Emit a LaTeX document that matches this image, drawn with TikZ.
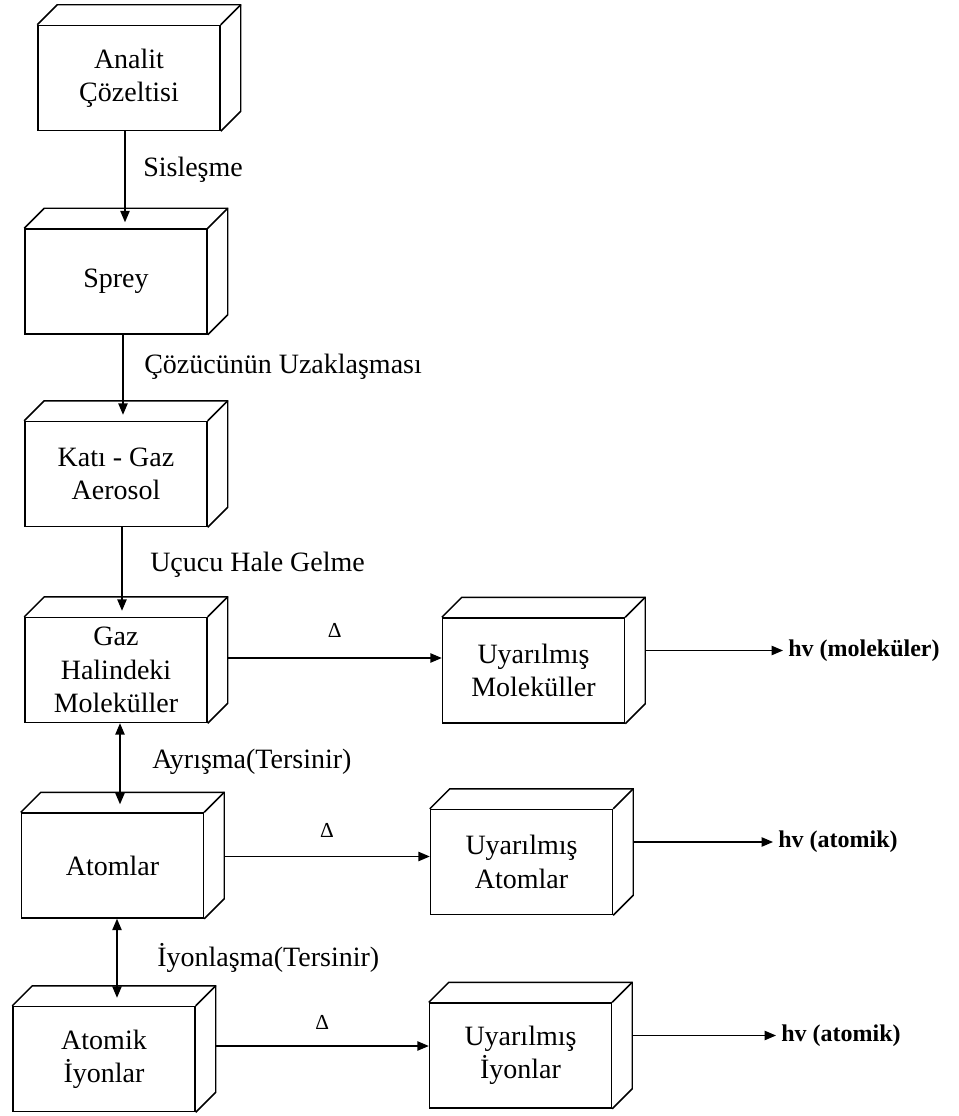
\documentclass[tikz,border=0pt]{standalone}
\usepackage{fontspec}
\setmainfont{Liberation Serif}
\usetikzlibrary{arrows.meta}

% top and side faces of a 3D box drawn behind a node
\newcommand{\boxfaces}[1]{%
  \draw[faces] (#1.north west) -- ++(20,-20) -- ([shift={(20,-20)}]#1.north east)
    -- ([shift={(20,-20)}]#1.south east) -- (#1.south east);
  \draw[faces] (#1.north east) -- ++(20,-20);}

\begin{document}
\begin{tikzpicture}[x=0.75pt,y=-0.75pt,
    kutu/.style={draw,line width=1.1pt,minimum width=136.5pt,minimum height=78.75pt,
      inner sep=0pt,align=center,font=\fontsize{21}{25}\selectfont},
    faces/.style={line width=1.1pt,line join=miter},
    arr/.style={line width=0.9pt,-{Triangle[length=8.5pt,width=7pt]}},
    darr/.style={line width=0.9pt,{Triangle[length=8.5pt,width=7pt]}-{Triangle[length=8.5pt,width=7pt]}},
    lbl/.style={anchor=west,inner sep=0pt,font=\fontsize{21}{25}\selectfont},
    hv/.style={anchor=west,inner xsep=3.75pt,inner ysep=0pt,font=\bfseries\fontsize{18}{22}\selectfont},
    delta/.style={inner sep=0pt,font=\fontsize{16}{18}\selectfont}]
\useasboundingbox (0,0) rectangle (958,1116);

% left column
\node[kutu] (analit) at (129,78) {Analit\\Çözeltisi};
\node[kutu] (sprey) at (116,281.5) {Sprey};
\node[kutu] (kati) at (116,474) {Katı - Gaz\\Aerosol};
\node[kutu] (gaz) at (116,670) {Gaz\\Halindeki\\Moleküller};
\node[kutu] (atomlar) at (112.5,865.5) {Atomlar};
\node[kutu] (iyon) at (104,1059) {Atomik\\İyonlar};

% right column
\node[kutu] (um) at (533.5,670.5) {Uyarılmış\\Moleküller};
\node[kutu] (ua) at (521.5,862) {Uyarılmış\\Atomlar};
\node[kutu] (ui) at (520.5,1055.5) {Uyarılmış\\İyonlar};

\boxfaces{analit}
\boxfaces{sprey}
\boxfaces{kati}
\boxfaces{gaz}
\boxfaces{atomlar}
\boxfaces{iyon}
\boxfaces{um}
\boxfaces{ua}
\boxfaces{ui}

% vertical steps
\draw[arr] ([shift={(-4,0)}]analit.south) -- ([shift={(9,-6)}]sprey.north);
\draw[arr] ([shift={(7,0)}]sprey.south) -- ([shift={(7,-6)}]kati.north);
\draw[arr] ([shift={(6,0)}]kati.south) -- ([shift={(6,-6)}]gaz.north);
\draw[darr] ([shift={(4,0)}]gaz.south) -- ([shift={(7.5,-8)}]atomlar.north);
\draw[darr] ([shift={(4.5,0)}]atomlar.south) -- ([shift={(13,-8)}]iyon.north);

\node[lbl] (l1) at (143,170) {Sisleşme};
\node[lbl] (l2) at (144,367) {Çözücünün Uzaklaşması};
\node[lbl] (l3) at (150,565) {Uçucu Hale Gelme};
\node[lbl] (l4) at (152,762) {Ayrışma(Tersinir)};
\node[lbl] (l5) at (157,958) {İyonlaşma(Tersinir)};

% excitation
\coordinate (d1) at ([shift={(20,-12)}]gaz.east);
\coordinate (d2) at ([shift={(20,-9)}]atomlar.east);
\coordinate (d3) at ([shift={(20,-13)}]iyon.east);
\draw[arr] (d1) -- (d1 -| um.west) node[delta,midway,above=15pt] {Δ};
\draw[arr] (d2) -- (d2 -| ua.west) node[delta,midway,above=14pt] {Δ};
\draw[arr] (d3) -- (d3 -| ui.west) node[delta,midway,above=12pt] {Δ};

% emission
\node[hv] (hvm) at (783,650.5) {hv (moleküler)};
\node[hv] (hva) at (773,842) {hv (atomik)};
\node[hv] (hvi) at (776,1035.5) {hv (atomik)};
\draw[arr] ([shift={(20,-20)}]um.east) -- (hvm.west);
\draw[arr] ([shift={(20,-20)}]ua.east) -- (hva.west);
\draw[arr] ([shift={(20,-20)}]ui.east) -- (hvi.west);
\end{tikzpicture}
\end{document}
